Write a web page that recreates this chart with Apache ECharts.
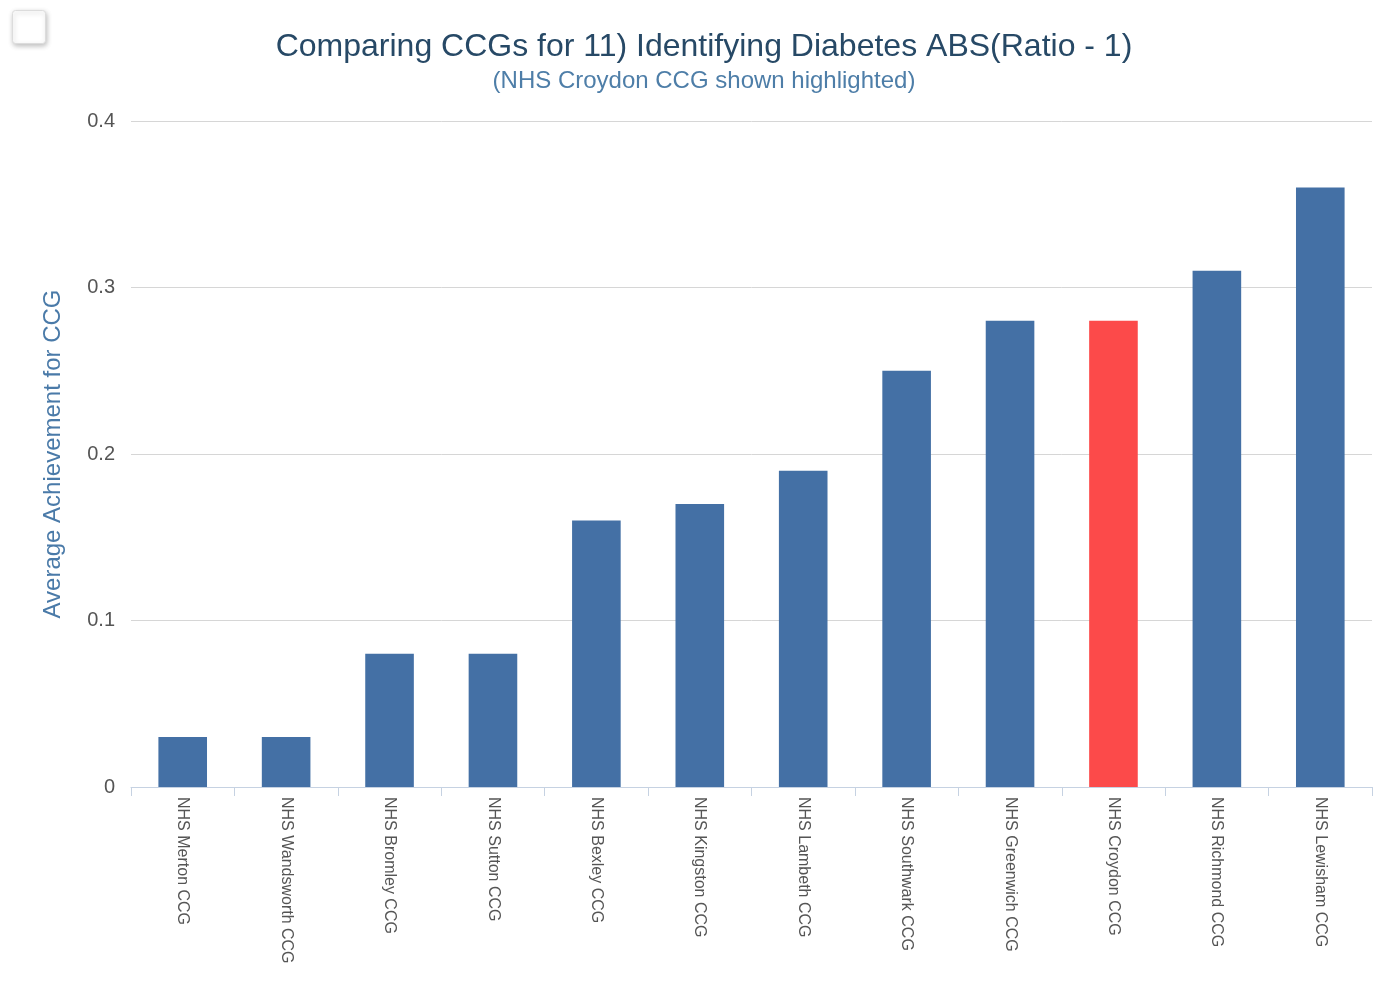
<!DOCTYPE html>
<html>
<head>
<meta charset="utf-8">
<script src="https://cdn.jsdelivr.net/npm/echarts@6/dist/echarts.min.js"></script>
<style>html,body{margin:0;padding:0;background:#fff}#c{width:1374px;height:985px}</style>
</head>
<body>
<div id="c"></div>
<script>
const categories = ["NHS Merton CCG","NHS Wandsworth CCG","NHS Bromley CCG","NHS Sutton CCG","NHS Bexley CCG","NHS Kingston CCG","NHS Lambeth CCG","NHS Southwark CCG","NHS Greenwich CCG","NHS Croydon CCG","NHS Richmond CCG","NHS Lewisham CCG"];
const values = [0.03,0.03,0.08,0.08,0.16,0.17,0.19,0.25,0.28,0.28,0.31,0.36];
const highlighted = "NHS Croydon CCG";
const yTicks = [0,0.1,0.2,0.3,0.4];

const font = "'Liberation Sans', Arial, sans-serif";
const chart = echarts.init(document.getElementById('c'));
chart.setOption({
  animation:false,
  backgroundColor:'#fff',
  title:{
    text:'Comparing CCGs for 11) Identifying Diabetes ABS(Ratio - 1)',
    subtext:'(NHS Croydon CCG shown highlighted)',
    left:699, textAlign:'center', top:26, itemGap:6,
    textStyle:{fontFamily:font,fontSize:32,fontWeight:'normal',color:'#274966'},
    subtextStyle:{fontFamily:font,fontSize:24,color:'#4e7ea8'}
  },
  graphic:[{type:'rect',left:12,top:10,shape:{width:33,height:33,r:3},
    style:{fill:'#fff',stroke:'#dcdcdc',lineWidth:1,shadowBlur:5,shadowColor:'rgba(0,0,0,0.25)',shadowOffsetX:1,shadowOffsetY:2}}],
  grid:{left:131,right:2,top:121,bottom:198},
  xAxis:{
    type:'category', data:categories,
    axisLine:{lineStyle:{color:'#c6d2e2',width:1}},
    axisTick:{show:true,length:9,lineStyle:{color:'#c6d2e2'}},
    axisLabel:{rotate:-90,fontFamily:font,fontSize:16,color:'#555',margin:10,padding:[0,0,12,0]}
  },
  yAxis:{
    type:'value', min:0, max:0.4, interval:0.1,
    name:'Average Achievement for CCG', nameLocation:'middle', nameGap:66,
    nameTextStyle:{fontFamily:font,fontSize:24,color:'#4a7aa8'},
    axisLine:{show:false}, axisTick:{show:false},
    splitLine:{lineStyle:{color:'#d6d6d6',width:1}},
    axisLabel:{fontFamily:font,fontSize:20,color:'#555',margin:16,
      formatter:v=>yTicks.includes(Math.round(v*10)/10)?String(Math.round(v*10)/10):''}
  },
  series:[{
    type:'bar', barWidth:'47%',
    data:values.map((v,i)=>({value:v,itemStyle:{color:categories[i]===highlighted?'#fc4a4a':'#4470a5'}}))
  }]
});
</script>
</body>
</html>
